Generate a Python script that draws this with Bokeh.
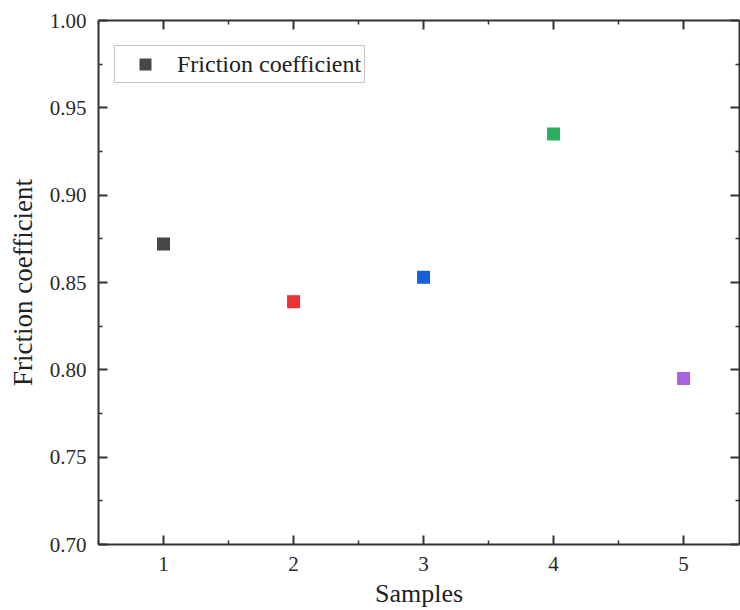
from bokeh.plotting import figure
from bokeh.models import (Range1d, LinearAxis, FixedTicker, ColumnDataSource,
                          Legend, LegendItem, PrintfTickFormatter)
from bokeh.embed import file_html
from bokeh.resources import INLINE

# ---- data ----
samples = [1, 2, 3, 4, 5]
friction = [0.872, 0.839, 0.853, 0.935, 0.795]
colors = ["#474747", "#ec3237", "#1760dc", "#29ad62", "#a664e0"]
x_ticks = [1, 2, 3, 4, 5]
x_minor = [0.5, 1.5, 2.5, 3.5, 4.5, 5.5]
y_ticks = [0.70, 0.75, 0.80, 0.85, 0.90, 0.95, 1.00]
y_minor = [0.725, 0.775, 0.825, 0.875, 0.925, 0.975]
series_label = "Friction coefficient"
x_title = "Samples"
y_title = "Friction coefficient"

FONT = "Liberation Serif"
AX = "#333333"

p = figure(width=740, height=610, output_backend="svg", toolbar_location=None,
           x_range=Range1d(0.5, 5.43), y_range=Range1d(0.70, 1.00),
           min_border_left=98, min_border_right=1, min_border_top=20,
           min_border_bottom=65)
p.grid.visible = False
p.outline_line_color = None
p.background_fill_color = "white"
p.border_fill_color = "white"

src = ColumnDataSource(dict(x=samples, y=friction, c=colors))
r = p.scatter("x", "y", source=src, marker="square", size=13,
              fill_color="c", line_color="c", line_width=0)


def style_axis(ax, ticks, minor, labels=True, title_size="26px"):
    ax.ticker = FixedTicker(ticks=ticks, minor_ticks=minor)
    ax.axis_line_color = AX
    ax.axis_line_width = 2
    ax.major_tick_line_color = AX
    ax.major_tick_line_width = 2
    ax.minor_tick_line_color = AX
    ax.minor_tick_line_width = 1.5
    ax.major_tick_in = 9
    ax.major_tick_out = 0
    ax.minor_tick_in = 4
    ax.minor_tick_out = 0
    if labels:
        ax.major_label_text_font = FONT
        ax.major_label_text_font_size = "21px"
        ax.major_label_text_color = "#2a2a2a"
        ax.major_label_standoff = 12
        ax.axis_label_text_font = FONT
        ax.axis_label_text_font_size = title_size
        ax.axis_label_text_font_style = "normal"
        ax.axis_label_text_color = "#222222"
    else:
        ax.major_label_text_font_size = "0px"
        ax.major_label_standoff = 0
        ax.major_label_text_color = None


xa = p.xaxis[0]
style_axis(xa, x_ticks, x_minor, title_size="26px")
xa.axis_label = x_title
xa.axis_label_standoff = 5

ya = p.yaxis[0]
style_axis(ya, y_ticks, y_minor, title_size="27px")
ya.formatter = PrintfTickFormatter(format="%.2f")
ya.axis_label = y_title
ya.axis_label_standoff = 9

top = LinearAxis()
style_axis(top, x_ticks, x_minor, labels=False)
p.add_layout(top, "above")
right = LinearAxis()
style_axis(right, y_ticks, y_minor, labels=False)
p.add_layout(right, "right")

legend = Legend(items=[LegendItem(label=series_label, renderers=[r], index=0)],
                location=(16, 461), margin=0, padding=3,
                glyph_width=54, glyph_height=30, label_standoff=5,
                label_text_font=FONT, label_text_font_size="24px",
                label_text_color="#222222",
                border_line_color="#8a8a8a", border_line_width=1.5,
                background_fill_color="white", background_fill_alpha=1)
p.add_layout(legend, "center")

open("out.html", "w").write(file_html(p, INLINE))
